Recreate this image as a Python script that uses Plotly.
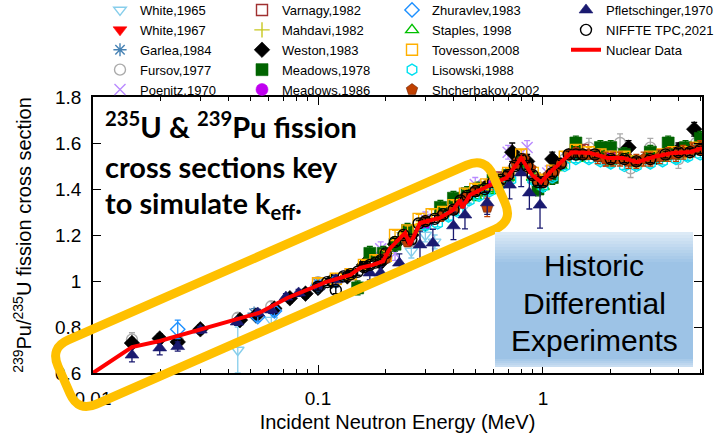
import math
import plotly.graph_objects as go

# ---------------- data ----------------
white1965_e = [0.044, 0.062, 0.26, 0.30, 0.33, 0.45]
white1965_y = [0.70, 0.83, 1.13, 1.20, 1.17, 1.33]
white1965_err = [0.10, 0.03, 0.03, 0.03, 0.03, 0.04]

white1967_e = [0.55, 0.95, 1.9]
white1967_y = [1.40, 1.44, 1.53]
white1967_err = [0.03, 0.03, 0.03]

garlea_e = [0.052, 0.10, 0.20, 0.45]
garlea_y = [0.86, 0.99, 1.10, 1.36]
garlea_err = [0.02, 0.02, 0.02, 0.02]

fursov_e = [0.0149, 0.0238, 0.044, 0.054, 0.062, 0.10, 0.13, 0.20, 0.27, 0.31, 0.60,
            0.72, 0.95, 1.25, 1.6, 2.2, 2.45, 3.0, 3.6, 4.0, 4.8]
fursov_y = [0.745, 0.74, 0.84, 0.855, 0.89, 0.995, 1.02, 1.11, 1.18, 1.26, 1.43,
            1.47, 1.44, 1.53, 1.58, 1.60, 1.49, 1.58, 1.56, 1.53, 1.60]
fursov_err = [0.03, 0.02, 0.02, 0.02, 0.02, 0.02, 0.02, 0.03, 0.03, 0.03, 0.03,
              0.03, 0.03, 0.03, 0.04, 0.04, 0.04, 0.04, 0.04, 0.04, 0.04]

poenitz_e = [0.19, 0.22, 0.30, 0.50, 0.70, 0.85, 1.05]
poenitz_y = [1.14, 1.12, 1.27, 1.42, 1.56, 1.58, 1.47]
poenitz_err = [0.03, 0.03, 0.03, 0.03, 0.03, 0.03, 0.03]

varnagy_e = [0.14, 0.25, 0.40, 0.65, 1.5, 3.0]
varnagy_y = [1.03, 1.19, 1.32, 1.45, 1.57, 1.55]
varnagy_err = [0.02, 0.02, 0.02, 0.02, 0.02, 0.02]

mahdavi_e = [0.17, 0.20, 0.23, 0.28, 0.35, 0.50, 0.90, 1.8, 4.2]
mahdavi_y = [1.09, 1.12, 1.19, 1.24, 1.29, 1.40, 1.47, 1.56, 1.57]
mahdavi_err = [0.02, 0.02, 0.02, 0.02, 0.02, 0.02, 0.02, 0.02, 0.02]

weston_e = [0.0149, 0.0198, 0.0238, 0.030, 0.045, 0.053, 0.064, 0.075, 0.088, 0.10,
            0.115, 0.135, 0.16, 0.19, 0.22, 0.26, 0.30, 0.37, 0.45, 0.56, 0.73,
            0.85, 1.1, 1.4, 1.8, 2.4, 3.2, 4.0, 4.7]
weston_y = [0.73, 0.75, 0.735, 0.79, 0.83, 0.85, 0.88, 0.925, 0.945, 0.97,
            1.00, 1.02, 1.07, 1.08, 1.16, 1.20, 1.25, 1.30, 1.36, 1.41, 1.56,
            1.52, 1.53, 1.56, 1.55, 1.58, 1.54, 1.57, 1.66]
weston_err = [0.02, 0.02, 0.02, 0.02, 0.02, 0.02, 0.02, 0.02, 0.02, 0.02,
              0.02, 0.02, 0.02, 0.02, 0.02, 0.02, 0.02, 0.02, 0.02, 0.02, 0.04,
              0.03, 0.03, 0.03, 0.03, 0.03, 0.03, 0.03, 0.03]

meadows78_e = [0.15, 0.17, 0.195, 0.22, 0.25, 0.35, 0.40, 0.46, 0.52, 0.60, 0.70,
               0.80, 0.95, 1.1, 1.4, 1.8, 2.0, 2.3, 3.0, 3.6, 4.3, 5.0]
meadows78_y = [0.97, 1.12, 1.12, 1.16, 1.22, 1.32, 1.36, 1.38, 1.40, 1.44, 1.46,
               1.52, 1.40, 1.45, 1.60, 1.58, 1.58, 1.55, 1.56, 1.60, 1.58, 1.62]
meadows78_err = [0.03, 0.03, 0.03, 0.03, 0.03, 0.03, 0.03, 0.03, 0.03, 0.03, 0.03,
                 0.03, 0.03, 0.03, 0.03, 0.03, 0.03, 0.03, 0.03, 0.03, 0.03, 0.03]

meadows86_e = [0.30, 0.60, 1.0, 2.0]
meadows86_y = [1.25, 1.42, 1.43, 1.54]
meadows86_err = [0.02, 0.02, 0.02, 0.02]

zhuravlev_e = [0.0238, 0.054, 0.064, 0.10, 0.12]
zhuravlev_y = [0.79, 0.845, 0.87, 0.98, 1.00]
zhuravlev_err = [0.04, 0.02, 0.02, 0.02, 0.02]

staples_e = [0.50, 0.55, 0.60, 0.65, 0.70, 0.80, 0.90, 1.0, 1.2, 1.5, 2.0, 2.5,
             3.0, 3.5, 4.0, 5.0]
staples_y = [1.37, 1.39, 1.40, 1.43, 1.45, 1.52, 1.45, 1.41, 1.50, 1.54, 1.52, 1.52,
             1.53, 1.54, 1.55, 1.57]
staples_err = [0.02, 0.02, 0.02, 0.02, 0.02, 0.02, 0.02, 0.02, 0.02, 0.02, 0.02, 0.02,
               0.02, 0.02, 0.02, 0.02]

tovesson_e = [0.10, 0.12, 0.14, 0.16, 0.18, 0.20, 0.22, 0.25, 0.28, 0.32, 0.36, 0.40,
              0.45, 0.50, 0.56, 0.63, 0.70, 0.80, 0.90, 1.0, 1.1, 1.25, 1.4, 1.6,
              1.8, 2.0, 2.3, 2.6, 3.0, 3.4, 3.8, 4.3, 4.8]
tovesson_y = [0.99, 1.01, 1.03, 1.07, 1.09, 1.11, 1.20, 1.22, 1.27, 1.29, 1.30, 1.33,
              1.38, 1.40, 1.42, 1.44, 1.47, 1.55, 1.47, 1.44, 1.48, 1.54, 1.57, 1.56,
              1.55, 1.54, 1.54, 1.52, 1.54, 1.55, 1.56, 1.56, 1.58]
tovesson_err = [0.02] * len(tovesson_e)

lisowski_e = [0.30, 0.34, 0.38, 0.42, 0.47, 0.52, 0.58, 0.65, 0.72, 0.80, 0.90, 1.0,
              1.1, 1.25, 1.4, 1.6, 1.8, 2.0, 2.3, 2.6, 3.0, 3.4, 3.9, 4.4, 5.0]
lisowski_y = [1.24, 1.25, 1.28, 1.30, 1.35, 1.37, 1.39, 1.42, 1.44, 1.50, 1.44, 1.41,
              1.45, 1.50, 1.53, 1.53, 1.52, 1.51, 1.50, 1.50, 1.51, 1.52, 1.53, 1.54, 1.55]
lisowski_err = [0.015] * len(lisowski_e)

shcherbakov_e = [0.20, 0.25, 0.30, 0.35, 0.40, 0.45, 0.50, 0.565, 0.62, 0.70, 0.76,
                 0.82, 0.88, 0.94, 1.0, 1.06, 1.13, 1.2, 1.3, 1.4, 1.5, 1.6, 1.75,
                 1.9, 2.05, 2.2, 2.4, 2.6, 2.8, 3.0, 3.3, 3.6, 3.9, 4.2, 4.6, 5.0]
shcherbakov_y = [1.10, 1.17, 1.26, 1.28, 1.31, 1.36, 1.39, 1.32, 1.43, 1.46, 1.51,
                 1.53, 1.49, 1.44, 1.43, 1.46, 1.48, 1.51, 1.55, 1.56, 1.55, 1.55, 1.54,
                 1.53, 1.53, 1.53, 1.52, 1.52, 1.53, 1.53, 1.54, 1.55, 1.55, 1.56, 1.57, 1.58]
shcherbakov_err = [0.02, 0.02, 0.02, 0.02, 0.02, 0.02, 0.02, 0.04, 0.02, 0.02, 0.02,
                   0.02, 0.02, 0.02, 0.02, 0.02, 0.02, 0.02, 0.02, 0.02, 0.02, 0.02, 0.03,
                   0.03, 0.03, 0.03, 0.03, 0.03, 0.03, 0.03, 0.03, 0.03, 0.03, 0.03, 0.03, 0.03]

pfletschinger_e = [0.0149, 0.0198, 0.0238, 0.030, 0.0437, 0.054, 0.062, 0.072, 0.082,
                   0.10, 0.12, 0.17, 0.19, 0.23, 0.284, 0.324, 0.40, 0.45, 0.565,
                   0.71, 0.80, 0.87, 0.97]
pfletschinger_y = [0.678, 0.709, 0.715, 0.787, 0.822, 0.861, 0.874, 0.930, 0.948,
                   0.975, 1.005, 1.035, 1.035, 1.078, 1.157, 1.165, 1.24, 1.287, 1.34,
                   1.417, 1.47, 1.383, 1.33]
pfletschinger_err = [0.03, 0.03, 0.02, 0.015, 0.015, 0.015, 0.015, 0.015, 0.015,
                     0.015, 0.02, 0.03, 0.03, 0.04, 0.06, 0.06, 0.06, 0.06, 0.05,
                     0.06, 0.06, 0.07, 0.10]

niffte_e = [0.10, 0.11, 0.12, 0.13, 0.14, 0.15, 0.16, 0.17, 0.18, 0.19, 0.20, 0.22,
            0.24, 0.26, 0.28, 0.30, 0.33, 0.36, 0.40, 0.43, 0.46, 0.50, 0.55, 0.60,
            0.65, 0.70, 0.75, 0.80, 0.85, 0.90, 0.95, 1.0, 1.1, 1.2, 1.3, 1.4, 1.5,
            1.7, 2.0, 2.3, 2.6, 3.0, 3.5, 4.0, 4.5, 5.0]
niffte_y = [0.975, 0.995, 0.96, 1.02, 1.03, 1.04, 1.06, 1.07, 1.08, 1.09, 1.12, 1.17,
            1.20, 1.18, 1.25, 1.26, 1.27, 1.29, 1.31, 1.35, 1.37, 1.39, 1.40, 1.43,
            1.44, 1.46, 1.50, 1.53, 1.50, 1.46, 1.43, 1.43, 1.47, 1.51, 1.55, 1.55, 1.55,
            1.55, 1.53, 1.53, 1.52, 1.53, 1.55, 1.56, 1.56, 1.57]
niffte_err = [0.015] * len(niffte_e)

nuclear_e = [0.01, 0.0149, 0.0198, 0.0299, 0.0437, 0.055, 0.073, 0.10, 0.109, 0.139,
             0.154, 0.175, 0.194, 0.209, 0.244, 0.256, 0.284, 0.348, 0.398, 0.428,
             0.437, 0.473, 0.542, 0.62, 0.69, 0.80, 0.894, 0.98, 1.07, 1.34, 1.62,
             1.93, 2.27, 2.62, 3.09, 3.78, 4.53, 5.09]
nuclear_y = [0.60, 0.713, 0.739, 0.787, 0.835, 0.862, 0.926, 0.983, 0.996, 1.026,
             1.057, 1.07, 1.085, 1.142, 1.209, 1.157, 1.252, 1.274, 1.309, 1.352,
             1.317, 1.374, 1.404, 1.43, 1.448, 1.535, 1.461, 1.43, 1.47, 1.56, 1.557,
             1.535, 1.535, 1.517, 1.539, 1.557, 1.561, 1.578]

# -------- series order = drawing order (gnuplot legend, column-major) --------
series = [
    ("White,1965", white1965_e, white1965_y, white1965_err, "triangle-down-open", "#87CEEB"),
    ("White,1967", white1967_e, white1967_y, white1967_err, "triangle-down", "#FF0000"),
    ("Garlea,1984", garlea_e, garlea_y, garlea_err, "asterisk-open", "#4682B4"),
    ("Fursov,1977", fursov_e, fursov_y, fursov_err, "circle-open", "#AAAAAA"),
    ("Poenitz,1970", poenitz_e, poenitz_y, poenitz_err, "x-thin-open", "#B98AFF"),
    ("Varnagy,1982", varnagy_e, varnagy_y, varnagy_err, "square-open", "#A03030"),
    ("Mahdavi,1982", mahdavi_e, mahdavi_y, mahdavi_err, "cross-thin-open", "#C8C820"),
    ("Weston,1983", weston_e, weston_y, weston_err, "diamond", "#000000"),
    ("Meadows,1978", meadows78_e, meadows78_y, meadows78_err, "square", "#006400"),
    ("Meadows,1986", meadows86_e, meadows86_y, meadows86_err, "circle", "#C000F0"),
    ("Zhuravlev,1983", zhuravlev_e, zhuravlev_y, zhuravlev_err, "diamond-open", "#1E90FF"),
    ("Staples, 1998", staples_e, staples_y, staples_err, "triangle-up-open", "#00C000"),
    ("Tovesson,2008", tovesson_e, tovesson_y, tovesson_err, "square-open", "#FFB000"),
    ("Lisowski,1988", lisowski_e, lisowski_y, lisowski_err, "hexagon-open", "#00E0F0"),
    ("Shcherbakov,2002", shcherbakov_e, shcherbakov_y, shcherbakov_err, "pentagon", "#C04000"),
    ("Pfletschinger,1970", pfletschinger_e, pfletschinger_y, pfletschinger_err, "triangle-up", "#1A1A70"),
    ("NIFFTE TPC,2021", niffte_e, niffte_y, niffte_err, "circle-open", "#000000"),
]

# ---------------- layout geometry ----------------
W, H = 718, 433
ML, MR, MT, MB = 93, 16, 97, 60
PW = W - ML - MR
PH = H - MT - MB


def paper(px, py):
    return ((px - ML) / PW, (H - MB - py) / PH)


NROWS = 5
LEGENDS = ["legend", "legend2", "legend3", "legend4"]
LEGEND_LEFT_PX = [100, 242, 392, 566]

fig = go.Figure()
for i, (name, e, y, err, sym, col) in enumerate(series):
    filled = not sym.endswith("open")
    fig.add_trace(go.Scatter(
        x=e, y=y, mode="markers", name=name, legend=LEGENDS[i // NROWS],
        marker=dict(symbol=sym, size=12 if filled else 11, color=col,
                    line=dict(width=1.4 if not filled else 0.6,
                              color=col if not filled else ("#6A2000" if col == "#C04000" else col))),
        error_y=dict(type="data", array=err, color=col, thickness=1.3, width=3),
    ))

fig.add_trace(go.Scatter(
    x=nuclear_e, y=nuclear_y, mode="lines", name="Nuclear Data",
    legend=LEGENDS[len(series) // NROWS],
    line=dict(color="#FF0000", width=4),
))

# ---------------- decorations ----------------
shapes = []
th = math.atan(0.4386)
u = (math.cos(th), -math.sin(th))
n = (math.sin(th), math.cos(th))
TL = (50.0, 348.0)
L, T, r = 475.0, 70.0, 20.0
TR = (TL[0] + L * u[0], TL[1] + L * u[1])
BR = (TR[0] + T * n[0], TR[1] + T * n[1])
BL = (TL[0] + T * n[0], TL[1] + T * n[1])


def mv(p, d, s):
    return (p[0] + d[0] * s, p[1] + d[1] * s)


def P(p):
    a, b = paper(*p)
    return f"{a:.5f},{b:.5f}"


path = (
    f"M{P(mv(TL, u, r))} L{P(mv(TR, u, -r))} Q{P(TR)} {P(mv(TR, n, r))} "
    f"L{P(mv(BR, n, -r))} Q{P(BR)} {P(mv(BR, u, -r))} "
    f"L{P(mv(BL, u, r))} Q{P(BL)} {P(mv(BL, n, -r))} "
    f"L{P(mv(TL, n, r))} Q{P(TL)} {P(mv(TL, u, r))} Z"
)
shapes.append(dict(type="path", path=path, xref="paper", yref="paper",
                   line=dict(color="#FFC000", width=9), layer="above"))

bx0, bx1, by0, by1 = 495, 693, 232, 367
x0p, y1p = paper(bx0, by0)
x1p, y0p = paper(bx1, by1)
shapes.append(dict(type="rect", xref="paper", yref="paper", x0=x0p, x1=x1p, y0=y0p, y1=y1p,
                   fillcolor="#9DC3E6", line=dict(width=0), layer="above"))


def mix(c1, c2, t):
    a = [int(c1[k:k + 2], 16) for k in (1, 3, 5)]
    b = [int(c2[k:k + 2], 16) for k in (1, 3, 5)]
    return "#" + "".join(f"{round(a[j] + (b[j] - a[j]) * t):02x}" for j in range(3))


nb = 10
for k in range(nb):
    ya = by0 + k * 3
    _, yt = paper(bx0, ya)
    _, yb = paper(bx0, ya + 3)
    shapes.append(dict(type="rect", xref="paper", yref="paper", x0=x0p, x1=x1p, y0=yb, y1=yt,
                       fillcolor=mix("#DCEAF6", "#9DC3E6", k / nb), line=dict(width=0), layer="above"))
for k in range(4):
    ya = by1 - (k + 1) * 2
    _, yt = paper(bx0, ya)
    _, yb = paper(bx0, ya + 2)
    shapes.append(dict(type="rect", xref="paper", yref="paper", x0=x0p, x1=x1p, y0=yb, y1=yt,
                       fillcolor=mix("#C8DDF1", "#9DC3E6", k / 4), line=dict(width=0), layer="above"))

annotations = []
bold_lines = [
    ("<sup>235</sup>U & <sup>239</sup>Pu fission", 125),
    ("cross sections key", 166),
    ("to simulate k<sub>eff</sub>.", 204),
]
for txt, py in bold_lines:
    ax, ay = paper(103, py)
    annotations.append(dict(text=f"<b>{txt}</b>", x=ax, y=ay, xref="paper", yref="paper",
                            xanchor="left", yanchor="middle", showarrow=False,
                            font=dict(family="Lato, Open Sans, sans-serif", size=29, color="#000000")))
for txt, py in [("Historic", 265), ("Differential", 303), ("Experiments", 340)]:
    ax, ay = paper(594, py)
    annotations.append(dict(text=txt, x=ax, y=ay, xref="paper", yref="paper",
                            xanchor="center", yanchor="middle", showarrow=False,
                            font=dict(family="Liberation Sans, Arial, sans-serif", size=30, color="#000000")))

legend_font = dict(family="Liberation Sans, Arial, sans-serif", size=13, color="#000000")
legend_layout = {}
for name, lx in zip(LEGENDS, LEGEND_LEFT_PX):
    legend_layout[name] = dict(orientation="v", x=paper(lx, 0)[0], xanchor="left",
                               y=paper(0, -5)[1], yanchor="top", itemwidth=30,
                               font=legend_font, bgcolor="rgba(0,0,0,0)")

tick_font = dict(family="Liberation Sans, Arial, sans-serif", size=19, color="#000000")
title_font = dict(family="Liberation Sans, Arial, sans-serif", size=20, color="#000000")
fig.update_layout(
    width=W, height=H,
    margin=dict(l=ML, r=MR, t=MT, b=MB, autoexpand=False),
    paper_bgcolor="white", plot_bgcolor="white",
    font=tick_font,
    showlegend=True,
    shapes=shapes,
    annotations=annotations,
    xaxis=dict(type="log", range=[-2, math.log10(5.09)], dtick=1,
               showgrid=False, zeroline=False, showline=True, linecolor="black", linewidth=1.5,
               mirror="ticks", ticks="inside", ticklen=8, tickcolor="black", tickwidth=1,
               ticklabelstandoff=7, tickfont=tick_font,
               minor=dict(ticks="inside", ticklen=4, dtick="D1", tickcolor="black", showgrid=False),
               title=dict(text="Incident Neutron Energy (MeV)", font=title_font, standoff=12)),
    yaxis=dict(range=[0.6, 1.8], dtick=0.2, showgrid=False, zeroline=False,
               showline=True, linecolor="black", linewidth=1.5, mirror="ticks",
               ticks="inside", ticklen=8, tickcolor="black", tickwidth=1,
               ticklabelstandoff=6, tickfont=tick_font,
               title=dict(text="<sup>239</sup>Pu/<sup>235</sup>U fission cross section",
                          font=title_font, standoff=18)),
    **legend_layout,
)

fig.write_html("out.html")
